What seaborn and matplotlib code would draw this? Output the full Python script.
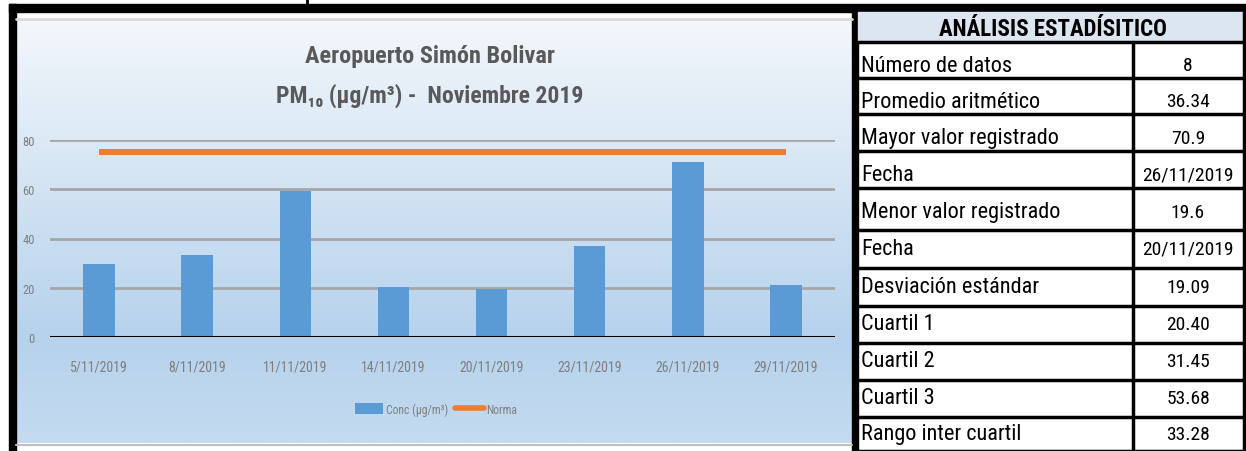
import numpy as np
import matplotlib
matplotlib.use("Agg")
import matplotlib.pyplot as plt
import seaborn as sns
from matplotlib.colors import LinearSegmentedColormap
from matplotlib.patches import Rectangle, Patch
from matplotlib.lines import Line2D
from matplotlib import font_manager

# data
dates = ["5/11/2019", "8/11/2019", "11/11/2019", "14/11/2019",
         "20/11/2019", "23/11/2019", "26/11/2019", "29/11/2019"]
conc = [29.7, 33.2, 59.3, 20.2, 19.6, 36.9, 70.9, 21.0]
norma = [75, 75, 75, 75, 75, 75, 75, 75]

stat_labels = ["Número de datos", "Promedio aritmético", "Mayor valor registrado",
               "Fecha", "Menor valor registrado", "Fecha", "Desviación estándar",
               "Cuartil 1", "Cuartil 2", "Cuartil 3", "Rango inter cuartil"]
stat_values = ["8", "36.34", "70.9", "26/11/2019", "19.6", "20/11/2019",
               "19.09", "20.40", "31.45", "53.68", "33.28"]

sns.set_style("white")
names = {f.name for f in font_manager.fontManager.ttflist}
NARROW = [n for n in ["Liberation Sans Narrow", "Roboto Condensed", "Liberation Sans"]
          if n in names] + ["DejaVu Sans"]
plt.rcParams["font.family"] = NARROW

W, H = 1246, 452
BAR = "#5B9BD5"
ORANGE = "#ED7D31"
GRAYTXT = "#7F7F7F"


def rect(x0, y0, x1, y1):
    return [x0 / W, 1 - y1 / H, (x1 - x0) / W, (y1 - y0) / H]


fig = plt.figure(figsize=(W / 100, H / 100), dpi=100)
fig.patch.set_facecolor("white")

# gradient background of the chart panel
bg = fig.add_axes(rect(16, 21, 852, 444))
cmap = LinearSegmentedColormap.from_list(
    "panel", [(0, "#F3F7FB"), (0.75, "#B6D2EC"), (1, "#C4DBF0")])
bg.imshow(np.linspace(0, 1, 256).reshape(-1, 1), cmap=cmap, aspect="auto",
          extent=[0, 1, 0, 1])
bg.axis("off")

# bar chart
ax = fig.add_axes(rect(50, 140.7, 835, 338.3))
ax.patch.set_alpha(0)
sns.barplot(x=dates, y=conc, color=BAR, saturation=1, width=0.32,
            linewidth=0, ax=ax)
ax.plot(np.arange(len(dates)), norma, color=ORANGE, lw=4.3,
        solid_capstyle="butt", zorder=4)
ax.set_xlim(-0.5, len(dates) - 0.5)
ax.set_ylim(0, 80)
ax.set_yticks([0, 20, 40, 60, 80])
ax.yaxis.grid(True, color="#A6A6A6", lw=2)
ax.set_axisbelow(True)
ax.axhline(0, color="black", lw=2.2, zorder=5)
for s in ax.spines.values():
    s.set_visible(False)
ax.tick_params(length=0)
ax.tick_params(axis="y", labelsize=9, labelcolor=GRAYTXT, pad=11)
ax.tick_params(axis="x", labelsize=10, labelcolor=GRAYTXT, pad=16)
ax.set_xlabel("")
ax.set_ylabel("")

fig.text(430 / W, 1 - 56 / H, "Aeropuerto Simón Bolivar", ha="center",
         va="center", fontsize=17.5, fontweight="bold", color="#595959")
fig.text(430 / W, 1 - 96 / H, "PM\u2081\u2080 (µg/m³) -  Noviembre 2019",
         ha="center", va="center", fontsize=17, fontweight="bold",
         color="#595959")

handles = [Patch(facecolor=BAR, edgecolor="none"),
           Line2D([0], [0], color=ORANGE, lw=4)]
ax.legend(handles, ["Conc (µg/m³)", "Norma"], loc="center",
          bbox_to_anchor=(436 / W, 1 - 410 / H), bbox_transform=fig.transFigure,
          ncol=2, frameon=False, fontsize=8.5, labelcolor=GRAYTXT,
          handlelength=2.4, handleheight=1.0, handletextpad=0.2,
          columnspacing=0.6)

# overlay: borders and statistics table
ov = fig.add_axes([0, 0, 1, 1])
ov.set_xlim(0, W)
ov.set_ylim(H, 0)
ov.axis("off")
ov.patch.set_alpha(0)

ov.add_patch(Rectangle((9, 5), W - 9, 8, color="black"))
ov.add_patch(Rectangle((9, 5), 7, H - 5, color="black"))
ov.plot([307, 307], [0, 6], color="black", lw=2)
ov.plot([16, 852], [19.5, 19.5], color="#D9D9D9", lw=2)
ov.plot([16, 852], [446, 446], color="#BFBFBF", lw=1.5)
ov.add_patch(Rectangle((852, 13), 6, H - 13, color="black"))

ov.add_patch(Rectangle((858, 13), W - 858, 30, color="#DCE6F1"))
ov.text(1053, 29, "ANÁLISIS ESTADÍSITICO", ha="center", va="center",
        fontsize=16.5, fontweight="bold", color="black")

bounds = [43, 79, 115, 152, 189, 231, 269, 307, 344, 381, 418, 452]
text_y = [66, 102, 139, 176, 213, 250, 288, 325, 362, 399, 435]
for y in bounds:
    ov.plot([858, W], [y, y], color="black", lw=2.5)
ov.plot([1133, 1133], [43, H], color="black", lw=2.5)
ov.plot([1244, 1244], [13, H], color="black", lw=2.5)
for lab, val, y in zip(stat_labels, stat_values, text_y):
    ov.text(861, y, lab, ha="left", va="center", fontsize=16, color="black")
    ov.text(1188, y, val, ha="center", va="center", fontsize=14, color="black")

fig.savefig("out.png", dpi=100)
